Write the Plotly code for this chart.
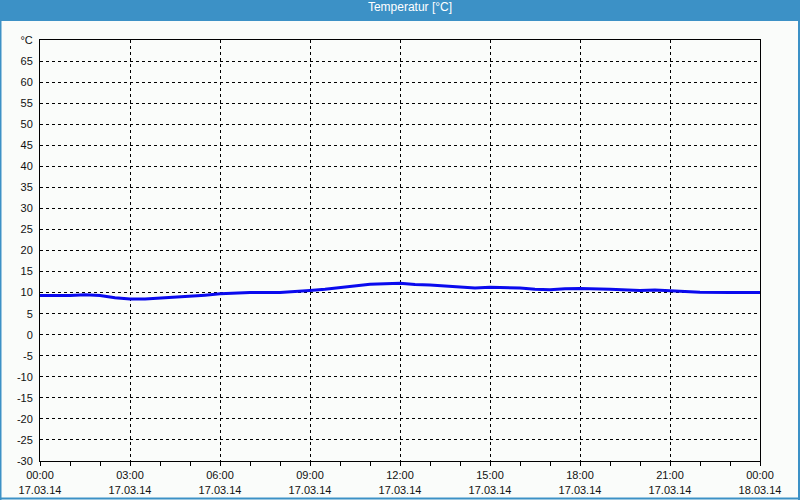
import plotly.graph_objects as go

# Temperature readings on 17.03.14
times = [
    "2014-03-17 00:00", "2014-03-17 01:00", "2014-03-17 01:30", "2014-03-17 02:00",
    "2014-03-17 02:30", "2014-03-17 03:00", "2014-03-17 03:30", "2014-03-17 04:00",
    "2014-03-17 04:30", "2014-03-17 05:00", "2014-03-17 05:30", "2014-03-17 06:00",
    "2014-03-17 06:30", "2014-03-17 07:00", "2014-03-17 08:00", "2014-03-17 08:30",
    "2014-03-17 09:00", "2014-03-17 09:30", "2014-03-17 10:00", "2014-03-17 10:30",
    "2014-03-17 11:00", "2014-03-17 12:00", "2014-03-17 12:30", "2014-03-17 13:00",
    "2014-03-17 14:00", "2014-03-17 14:30", "2014-03-17 15:00", "2014-03-17 16:00",
    "2014-03-17 16:30", "2014-03-17 17:00", "2014-03-17 17:30", "2014-03-17 18:00",
    "2014-03-17 19:00", "2014-03-17 20:00", "2014-03-17 20:30", "2014-03-17 21:00",
    "2014-03-17 22:00", "2014-03-17 23:00", "2014-03-18 00:00",
]
temps = [
    9.3, 9.3, 9.5, 9.3,
    8.8, 8.5, 8.5, 8.7,
    9.0, 9.2, 9.4, 9.7,
    9.8, 10.0, 10.0, 10.2,
    10.5, 10.8, 11.2, 11.6,
    12.0, 12.2, 11.9, 11.8,
    11.4, 11.1, 11.3, 11.1,
    10.8, 10.7, 10.9, 11.0,
    10.8, 10.5, 10.6, 10.4,
    10.1, 10.0, 10.0,
]

y_ticks = list(range(-30, 71, 5))
y_labels = [str(v) for v in y_ticks[:-1]] + ["°C"]

FONT = "Liberation Sans"
BLUE = "#3c91c6"

fig = go.Figure()
fig.add_trace(go.Scatter(x=times, y=temps, mode="lines",
                         line=dict(color="#0a0aee", width=3),
                         hoverinfo="x+y"))

# helper: pixel -> paper coords (plot area 40..760 x 40..461)
px = lambda p: (p - 40) / 720
py = lambda p: (461 - p) / 421

shapes = [
    # title bar
    dict(type="rect", xref="paper", yref="paper", x0=px(0), x1=px(800),
         y0=py(21), y1=py(0), fillcolor=BLUE, line_width=0, layer="above"),
    # window frame (left, right, bottom)
    dict(type="line", xref="paper", yref="paper", x0=px(0.5), x1=px(0.5),
         y0=py(0), y1=py(500), line=dict(color=BLUE, width=2)),
    dict(type="line", xref="paper", yref="paper", x0=px(799), x1=px(799),
         y0=py(0), y1=py(500), line=dict(color=BLUE, width=2)),
    dict(type="line", xref="paper", yref="paper", x0=px(0), x1=px(800),
         y0=py(498.5), y1=py(498.5), line=dict(color=BLUE, width=2)),
]

fig.update_layout(
    width=800, height=500,
    margin=dict(l=40, r=40, t=40, b=39, autoexpand=False),
    paper_bgcolor="#fafcfa", plot_bgcolor="#fafcfa",
    font=dict(family=FONT, size=11, color="#111"),
    showlegend=False,
    shapes=shapes,
    title=dict(text="Temperatur [°C]", xref="container", yref="container",
               x=410 / 800, xanchor="center", y=1, yanchor="top",
               pad=dict(t=3), font=dict(family=FONT, size=12, color="white")),
    xaxis=dict(
        type="date", range=["2014-03-17 00:00", "2014-03-18 00:00"],
        dtick=3 * 3600 * 1000, tick0="2014-03-17 00:00",
        tickformat="%H:%M<br>%d.%m.%y",
        showgrid=True, gridcolor="black", griddash="3px,3px", gridwidth=1,
        showline=True, linecolor="black", linewidth=1, mirror=True,
        ticks="outside", ticklen=4, tickcolor="black",
        minor=dict(dtick=3600 * 1000, ticks="outside", ticklen=4,
                   tickcolor="black", showgrid=False),
        zeroline=False, fixedrange=True, automargin=False,
    ),
    yaxis=dict(
        range=[-30, 70], tickvals=y_ticks, ticktext=y_labels,
        showgrid=True, gridcolor="black", griddash="3px,3px", gridwidth=1,
        showline=True, linecolor="black", linewidth=1, mirror=True,
        ticks="", ticklabelstandoff=4, zeroline=False, fixedrange=True,
        automargin=False,
    ),
)

fig.write_html("out.html", config={"displayModeBar": False},
               post_script="document.body.style.margin='0';")
